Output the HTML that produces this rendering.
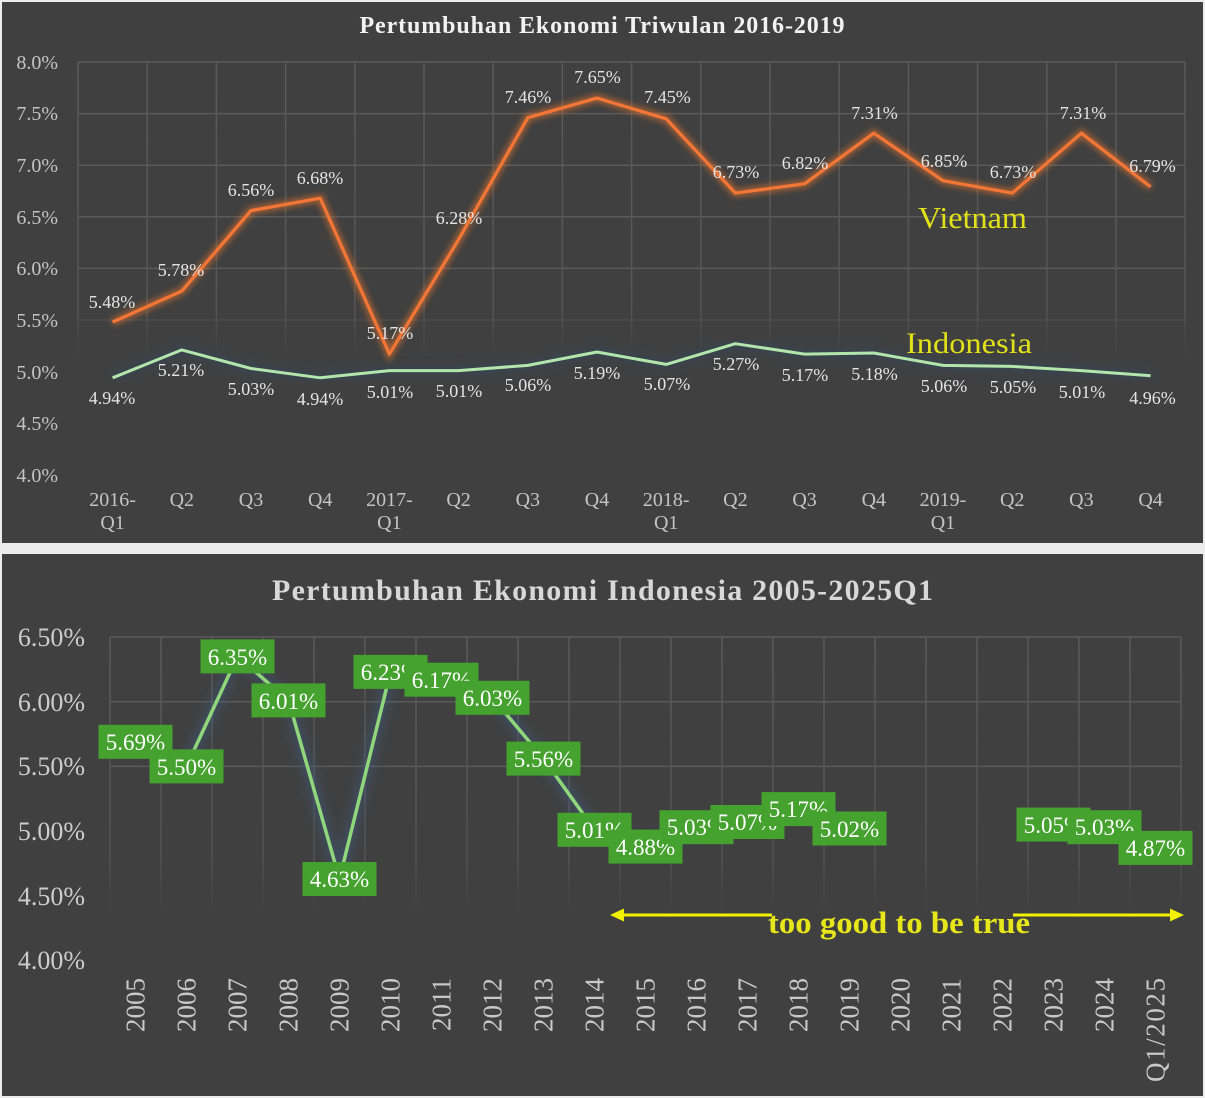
<!DOCTYPE html>
<html><head><meta charset="utf-8"><style>
html,body{margin:0;padding:0;background:#ececec;}
svg{display:block;}
text{font-family:"Liberation Serif",serif;}
</style></head><body>
<svg width="1205" height="1098" viewBox="0 0 1205 1098" xmlns="http://www.w3.org/2000/svg">
<defs>
<filter id="blur3" x="-10%" y="-10%" width="120%" height="120%"><feGaussianBlur stdDeviation="3"/></filter>
<filter id="blur5" x="-10%" y="-10%" width="120%" height="120%"><feGaussianBlur stdDeviation="5"/></filter>
<linearGradient id="vg1" gradientUnits="userSpaceOnUse" x1="0" y1="62" x2="0" y2="475">
<stop offset="0" stop-color="#5a5a5a"/><stop offset="0.6" stop-color="#555"/><stop offset="0.75" stop-color="#404040" stop-opacity="0"/></linearGradient>
<linearGradient id="vg2" gradientUnits="userSpaceOnUse" x1="0" y1="637" x2="0" y2="960">
<stop offset="0" stop-color="#5a5a5a"/><stop offset="0.7" stop-color="#525252"/><stop offset="0.9" stop-color="#404040" stop-opacity="0"/></linearGradient>
</defs>
<rect x="2" y="2" width="1201" height="541" fill="#404040"/>
<rect x="2" y="554" width="1201" height="542" fill="#404040"/>

<!-- TOP CHART -->
<text x="602" y="33" text-anchor="middle" font-size="24" font-weight="bold" fill="#f2f2f2" textLength="485" lengthAdjust="spacing">Pertumbuhan Ekonomi Triwulan 2016-2019</text>
<g stroke="#5a5a5a" stroke-width="1.5">
<line x1="78" y1="62" x2="1185" y2="62"/>
<line x1="78" y1="113.6" x2="1185" y2="113.6"/>
<line x1="78" y1="165.2" x2="1185" y2="165.2"/>
<line x1="78" y1="216.8" x2="1185" y2="216.8"/>
<line x1="78" y1="268.4" x2="1185" y2="268.4"/>
<line x1="78" y1="320" x2="1185" y2="320" stroke-opacity="0.45"/>
</g>
<g stroke="url(#vg1)" stroke-width="1.5">
<line x1="78" y1="62" x2="78" y2="475"/><line x1="147.2" y1="62" x2="147.2" y2="475"/><line x1="216.4" y1="62" x2="216.4" y2="475"/><line x1="285.6" y1="62" x2="285.6" y2="475"/><line x1="354.8" y1="62" x2="354.8" y2="475"/><line x1="424" y1="62" x2="424" y2="475"/><line x1="493.2" y1="62" x2="493.2" y2="475"/><line x1="562.4" y1="62" x2="562.4" y2="475"/><line x1="631.6" y1="62" x2="631.6" y2="475"/><line x1="700.8" y1="62" x2="700.8" y2="475"/><line x1="770" y1="62" x2="770" y2="475"/><line x1="839.2" y1="62" x2="839.2" y2="475"/><line x1="908.4" y1="62" x2="908.4" y2="475"/><line x1="977.6" y1="62" x2="977.6" y2="475"/><line x1="1046.8" y1="62" x2="1046.8" y2="475"/><line x1="1116" y1="62" x2="1116" y2="475"/><line x1="1185" y1="62" x2="1185" y2="475"/>
</g>
<g font-size="20" fill="#c4c4c4" text-anchor="end">
<text x="58" y="69">8.0%</text><text x="58" y="120">7.5%</text><text x="58" y="172">7.0%</text><text x="58" y="224">6.5%</text><text x="58" y="275">6.0%</text><text x="58" y="327">5.5%</text><text x="58" y="379">5.0%</text><text x="58" y="430">4.5%</text><text x="58" y="482">4.0%</text>
</g>
<g font-size="20" fill="#c4c4c4" text-anchor="middle">
<text x="112.6" y="506">2016-</text><text x="112.6" y="529">Q1</text>
<text x="181.8" y="506">Q2</text><text x="251" y="506">Q3</text><text x="320.2" y="506">Q4</text>
<text x="389.4" y="506">2017-</text><text x="389.4" y="529">Q1</text>
<text x="458.6" y="506">Q2</text><text x="527.8" y="506">Q3</text><text x="597" y="506">Q4</text>
<text x="666.2" y="506">2018-</text><text x="666.2" y="529">Q1</text>
<text x="735.4" y="506">Q2</text><text x="804.6" y="506">Q3</text><text x="873.8" y="506">Q4</text>
<text x="943" y="506">2019-</text><text x="943" y="529">Q1</text>
<text x="1012.2" y="506">Q2</text><text x="1081.4" y="506">Q3</text><text x="1150.6" y="506">Q4</text>
</g>
<!-- Indonesia line top -->
<polyline fill="none" stroke="#2d4763" stroke-width="9" stroke-opacity="0.55" filter="url(#blur5)" points="112.6,377.8 181.8,349.9 251,368.5 320.2,377.8 389.4,370.6 458.6,370.6 527.8,365.4 597,352 666.2,364.4 735.4,343.7 804.6,354.1 873.8,353 943,365.4 1012.2,366.4 1081.4,370.6 1150.6,375.7"/>
<polyline fill="none" stroke="#b3e6ad" stroke-width="3" stroke-linejoin="round" points="112.6,377.8 181.8,349.9 251,368.5 320.2,377.8 389.4,370.6 458.6,370.6 527.8,365.4 597,352 666.2,364.4 735.4,343.7 804.6,354.1 873.8,353 943,365.4 1012.2,366.4 1081.4,370.6 1150.6,375.7"/>
<!-- Vietnam line -->
<polyline fill="none" stroke="#ff7a2a" stroke-width="8" stroke-opacity="0.5" filter="url(#blur3)" points="112.6,322.1 181.8,291.1 251,210.6 320.2,198.2 389.4,354.1 458.6,239.5 527.8,117.7 597,98.1 666.2,118.8 735.4,193.1 804.6,183.8 873.8,133.2 943,180.7 1012.2,193.1 1081.4,133.2 1150.6,186.9"/>
<polyline fill="none" stroke="#f27636" stroke-width="3.2" stroke-linejoin="round" points="112.6,322.1 181.8,291.1 251,210.6 320.2,198.2 389.4,354.1 458.6,239.5 527.8,117.7 597,98.1 666.2,118.8 735.4,193.1 804.6,183.8 873.8,133.2 943,180.7 1012.2,193.1 1081.4,133.2 1150.6,186.9"/>
<g font-size="18" fill="#e4e4e4" text-anchor="middle">
<text x="112" y="308">5.48%</text><text x="181" y="276">5.78%</text><text x="251" y="196">6.56%</text><text x="320" y="184">6.68%</text><text x="390" y="339">5.17%</text><text x="459" y="224">6.28%</text><text x="528" y="103">7.46%</text><text x="597.5" y="83">7.65%</text><text x="667.5" y="103">7.45%</text><text x="736" y="178">6.73%</text><text x="805" y="169">6.82%</text><text x="874.5" y="119">7.31%</text><text x="944" y="167">6.85%</text><text x="1013" y="178">6.73%</text><text x="1083" y="119">7.31%</text><text x="1152.5" y="172">6.79%</text>
<text x="112" y="404">4.94%</text><text x="181" y="376">5.21%</text><text x="251" y="395">5.03%</text><text x="320" y="405">4.94%</text><text x="390" y="398">5.01%</text><text x="459" y="397">5.01%</text><text x="528" y="391">5.06%</text><text x="597" y="379">5.19%</text><text x="667" y="390">5.07%</text><text x="736" y="370">5.27%</text><text x="805" y="381">5.17%</text><text x="874.5" y="380">5.18%</text><text x="944" y="392">5.06%</text><text x="1013" y="393">5.05%</text><text x="1082" y="398">5.01%</text><text x="1152.5" y="404">4.96%</text>
</g>
<text x="918" y="228" font-size="31" fill="#e2e21a" textLength="109" lengthAdjust="spacingAndGlyphs">Vietnam</text>
<text x="906" y="353" font-size="30" fill="#e2e21a" textLength="126" lengthAdjust="spacingAndGlyphs">Indonesia</text>

<!-- BOTTOM CHART -->
<text x="602.5" y="600" text-anchor="middle" font-size="30" font-weight="bold" fill="#d8d8d8" textLength="661" lengthAdjust="spacing">Pertumbuhan Ekonomi Indonesia 2005-2025Q1</text>
<g stroke="#5a5a5a" stroke-width="1.5">
<line x1="110" y1="637" x2="1181" y2="637"/>
<line x1="110" y1="701.7" x2="1181" y2="701.7"/>
<line x1="110" y1="766.4" x2="1181" y2="766.4"/>
</g>
<g stroke="url(#vg2)" stroke-width="1.5">
<line x1="110" y1="637" x2="110" y2="960"/><line x1="161" y1="637" x2="161" y2="960"/><line x1="212" y1="637" x2="212" y2="960"/><line x1="263" y1="637" x2="263" y2="960"/><line x1="314" y1="637" x2="314" y2="960"/><line x1="365" y1="637" x2="365" y2="960"/><line x1="416" y1="637" x2="416" y2="960"/><line x1="467" y1="637" x2="467" y2="960"/><line x1="518" y1="637" x2="518" y2="960"/><line x1="569" y1="637" x2="569" y2="960"/><line x1="620" y1="637" x2="620" y2="960"/><line x1="671" y1="637" x2="671" y2="960"/><line x1="722" y1="637" x2="722" y2="960"/><line x1="773" y1="637" x2="773" y2="960"/><line x1="824" y1="637" x2="824" y2="960"/><line x1="875" y1="637" x2="875" y2="960"/><line x1="926" y1="637" x2="926" y2="960"/><line x1="977" y1="637" x2="977" y2="960"/><line x1="1028" y1="637" x2="1028" y2="960"/><line x1="1079" y1="637" x2="1079" y2="960"/><line x1="1130" y1="637" x2="1130" y2="960"/><line x1="1181" y1="637" x2="1181" y2="960"/>
</g>
<g font-size="26" fill="#cccccc" text-anchor="end">
<text x="85" y="646">6.50%</text><text x="85" y="711">6.00%</text><text x="85" y="775">5.50%</text><text x="85" y="840">5.00%</text><text x="85" y="905">4.50%</text><text x="85" y="969">4.00%</text>
</g>
<g font-size="27" fill="#c8c8c8" text-anchor="end">
<text transform="translate(144.5,978) rotate(-90)">2005</text>
<text transform="translate(195.5,978) rotate(-90)">2006</text>
<text transform="translate(246.5,978) rotate(-90)">2007</text>
<text transform="translate(297.5,978) rotate(-90)">2008</text>
<text transform="translate(348.5,978) rotate(-90)">2009</text>
<text transform="translate(399.5,978) rotate(-90)">2010</text>
<text transform="translate(450.5,978) rotate(-90)">2011</text>
<text transform="translate(501.5,978) rotate(-90)">2012</text>
<text transform="translate(552.5,978) rotate(-90)">2013</text>
<text transform="translate(603.5,978) rotate(-90)">2014</text>
<text transform="translate(654.5,978) rotate(-90)">2015</text>
<text transform="translate(705.5,978) rotate(-90)">2016</text>
<text transform="translate(756.5,978) rotate(-90)">2017</text>
<text transform="translate(807.5,978) rotate(-90)">2018</text>
<text transform="translate(858.5,978) rotate(-90)">2019</text>
<text transform="translate(909.5,978) rotate(-90)">2020</text>
<text transform="translate(960.5,978) rotate(-90)">2021</text>
<text transform="translate(1011.5,978) rotate(-90)">2022</text>
<text transform="translate(1062.5,978) rotate(-90)">2023</text>
<text transform="translate(1113.5,978) rotate(-90)">2024</text>
<text transform="translate(1164.5,978) rotate(-90)" textLength="104" lengthAdjust="spacing">Q1/2025</text>
</g>
<!-- bottom line -->
<g fill="none" stroke-linejoin="round">
<polyline stroke="#3b5f86" stroke-width="12" stroke-opacity="0.45" filter="url(#blur5)" points="135.5,741.8 186.5,766.4 237.5,656.4 288.5,700.4 339.5,879 390.5,671.9 441.5,679.7 492.5,697.8 543.5,758.6 594.5,829.8 645.5,846.6 696.5,827.2 747.5,822 798.5,809.1 849.5,828.5"/>
<polyline stroke="#8fd67c" stroke-width="3.5" points="135.5,741.8 186.5,766.4 237.5,656.4 288.5,700.4 339.5,879 390.5,671.9 441.5,679.7 492.5,697.8 543.5,758.6 594.5,829.8 645.5,846.6 696.5,827.2 747.5,822 798.5,809.1 849.5,828.5"/>
<polyline stroke="#8fd67c" stroke-width="3.5" points="1053.5,824.6 1104.5,827.2 1155.5,847.9"/>
</g>
<!-- label boxes -->
<g font-size="23" fill="#ffffff" text-anchor="middle">
<rect x="98.5" y="724.8" width="74" height="34" fill="#45a22f"/><text x="135.5" y="750">5.69%</text>
<rect x="149.5" y="749.4" width="74" height="34" fill="#45a22f"/><text x="186.5" y="775">5.50%</text>
<rect x="200.5" y="639.4" width="74" height="34" fill="#45a22f"/><text x="237.5" y="665">6.35%</text>
<rect x="251.5" y="683.4" width="74" height="34" fill="#45a22f"/><text x="288.5" y="709">6.01%</text>
<rect x="302.5" y="862" width="74" height="34" fill="#45a22f"/><text x="339.5" y="887">4.63%</text>
<rect x="353.5" y="654.9" width="74" height="34" fill="#45a22f"/><text x="390.5" y="680">6.23%</text>
<rect x="404.5" y="662.7" width="74" height="34" fill="#45a22f"/><text x="441.5" y="688">6.17%</text>
<rect x="455.5" y="680.8" width="74" height="34" fill="#45a22f"/><text x="492.5" y="706">6.03%</text>
<rect x="506.5" y="741.6" width="74" height="34" fill="#45a22f"/><text x="543.5" y="767">5.56%</text>
<rect x="557.5" y="812.8" width="74" height="34" fill="#45a22f"/><text x="594.5" y="838">5.01%</text>
<rect x="608.5" y="829.6" width="74" height="34" fill="#45a22f"/><text x="645.5" y="855">4.88%</text>
<rect x="659.5" y="810.2" width="74" height="34" fill="#45a22f"/><text x="696.5" y="835">5.03%</text>
<rect x="710.5" y="805" width="74" height="34" fill="#45a22f"/><text x="747.5" y="830">5.07%</text>
<rect x="761.5" y="792.1" width="74" height="34" fill="#45a22f"/><text x="798.5" y="817">5.17%</text>
<rect x="812.5" y="811.5" width="74" height="34" fill="#45a22f"/><text x="849.5" y="837">5.02%</text>
<rect x="1016.5" y="807.6" width="74" height="34" fill="#45a22f"/><text x="1053.5" y="833">5.05%</text>
<rect x="1067.5" y="810.2" width="74" height="34" fill="#45a22f"/><text x="1104.5" y="835">5.03%</text>
<rect x="1118.5" y="830.9" width="74" height="34" fill="#45a22f"/><text x="1155.5" y="856">4.87%</text>
</g>
<!-- annotation -->
<g stroke="#f2f200" stroke-width="3">
<line x1="620" y1="915" x2="772" y2="915"/>
<line x1="1013" y1="915" x2="1172" y2="915"/>
</g>
<polygon points="610,915 624,908.5 624,921.5" fill="#f2f200"/>
<polygon points="1184,915 1170,908.5 1170,921.5" fill="#f2f200"/>
<text x="768" y="933" font-size="31" font-weight="bold" fill="#e6e61a" textLength="262" lengthAdjust="spacingAndGlyphs">too good to be true</text>
</svg>
</body></html>
